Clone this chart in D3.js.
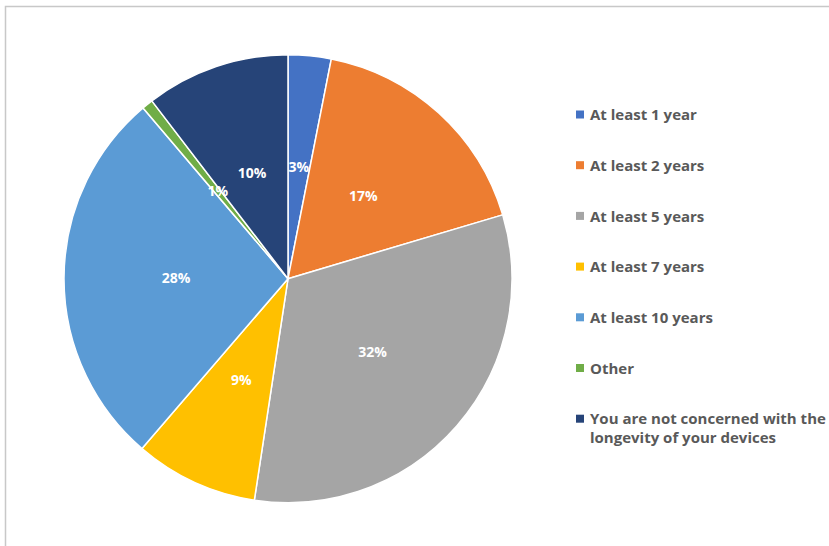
<!DOCTYPE html>
<html>
<head>
<meta charset="utf-8">
<script src="https://cdn.jsdelivr.net/npm/d3@7"></script>
<style>
  html, body { margin: 0; padding: 0; background: #fff; }
  svg { display: block; }
</style>
</head>
<body>
<svg id="chart" width="829" height="546"></svg>
<script>
// Expected device lifetime — share of respondents
const categories = [
  "At least 1 year",
  "At least 2 years",
  "At least 5 years",
  "At least 7 years",
  "At least 10 years",
  "Other",
  "You are not concerned with the longevity of your devices"
];
const shares = [3.1, 17.3, 32.0, 8.9, 27.5, 0.8, 10.4];
const colors = ["#4472C4", "#ED7D31", "#A5A5A5", "#FFC000", "#5B9BD5", "#70AD47", "#264478"];
const legendLines = [
  ["At least 1 year"],
  ["At least 2 years"],
  ["At least 5 years"],
  ["At least 7 years"],
  ["At least 10 years"],
  ["Other"],
  ["You are not concerned with the", "longevity of your devices"]
];

const svg = d3.select("#chart");
const font = "'Open Sans', Lato, sans-serif";

// frame of the chart area
svg.append("path")
  .attr("d", "M5.5,546 V6.5 H829")
  .attr("fill", "none")
  .attr("stroke", "#c8c8c8")
  .attr("stroke-width", 1.5);

const cx = 288, cy = 278.7, radius = 224;
const data = categories.map((c, i) => ({ name: c, value: shares[i], color: colors[i] }));

const pie = d3.pie().sort(null).value(d => d.value);
const arcs = pie(data);
const arc = d3.arc().innerRadius(0).outerRadius(radius);
const labelArc = d3.arc().innerRadius(radius * 0.5).outerRadius(radius * 0.5);

const g = svg.append("g").attr("transform", `translate(${cx},${cy})`);

g.selectAll("path.slice")
  .data(arcs)
  .join("path")
  .attr("class", "slice")
  .attr("d", arc)
  .attr("fill", d => d.data.color)
  .attr("stroke", "#fff")
  .attr("stroke-width", 1.5)
  .attr("stroke-linejoin", "round");

g.selectAll("text.pct")
  .data(arcs)
  .join("text")
  .attr("class", "pct")
  .attr("transform", d => `translate(${labelArc.centroid(d)})`)
  .attr("text-anchor", "middle")
  .attr("dy", "0.35em")
  .attr("fill", "#fff")
  .attr("font-family", font)
  .attr("font-weight", "bold")
  .attr("font-size", 14)
  .text(d => Math.round(d.data.value) + "%");

// legend
const legendX = 576, legendY0 = 115, legendStep = 50.7;
const lg = svg.append("g");
const items = lg.selectAll("g.item")
  .data(data)
  .join("g")
  .attr("class", "item")
  .attr("transform", (d, i) => `translate(${legendX},${legendY0 + i * legendStep})`);

items.append("rect")
  .attr("x", 0)
  .attr("y", -4.5)
  .attr("width", 8)
  .attr("height", 8)
  .attr("fill", d => d.color);

items.append("text")
  .attr("x", 14)
  .attr("y", 0)
  .attr("fill", "#595959")
  .attr("font-family", font)
  .attr("font-weight", "bold")
  .attr("font-size", 15)
  .selectAll("tspan")
  .data((d, i) => legendLines[i])
  .join("tspan")
  .attr("x", 14)
  .attr("dy", (t, j) => j === 0 ? "0.35em" : "1.24em")
  .text(t => t);
</script>
</body>
</html>
